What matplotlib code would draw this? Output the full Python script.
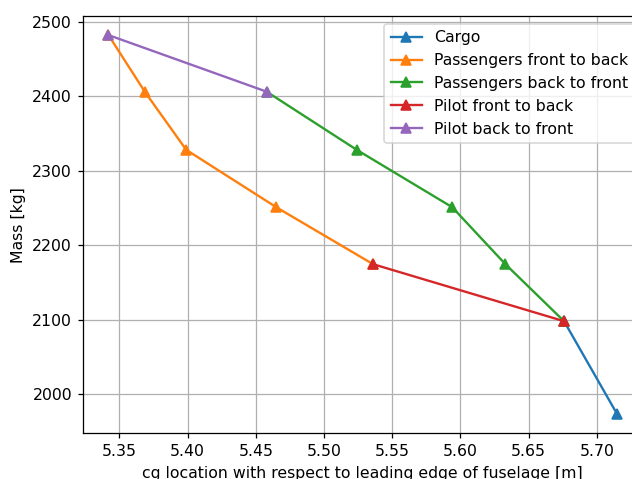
import matplotlib
matplotlib.use("Agg")
import matplotlib.pyplot as plt

# cg position [m] and aircraft mass [kg] for each loading step
cargo_x = [5.715, 5.676]
cargo_m = [1973, 2098]

pax_f2b_x = [5.536, 5.465, 5.399, 5.369, 5.342]
pax_f2b_m = [2174.5, 2251, 2328, 2405, 2482]

pax_b2f_x = [5.676, 5.633, 5.594, 5.524, 5.458]
pax_b2f_m = [2098, 2174.5, 2251, 2328, 2406]

pilot_f2b_x = [5.536, 5.676]
pilot_f2b_m = [2174.5, 2098]

pilot_b2f_x = [5.458, 5.342]
pilot_b2f_m = [2406, 2482]

dpi = 113
fig = plt.figure(figsize=(632 / dpi, 479 / dpi), dpi=dpi)
ax = fig.add_axes([83 / 632, (479 - 433.3) / 479, (642.7 - 83) / 632, (433.3 - 16.1) / 479])

ax.plot(cargo_x, cargo_m, marker="^", label="Cargo")
ax.plot(pax_f2b_x, pax_f2b_m, marker="^", label="Passengers front to back")
ax.plot(pax_b2f_x, pax_b2f_m, marker="^", label="Passengers back to front")
ax.plot(pilot_f2b_x, pilot_f2b_m, marker="^", label="Pilot front to back")
ax.plot(pilot_b2f_x, pilot_b2f_m, marker="^", label="Pilot back to front")

ax.set_xlabel("cg location with respect to leading edge of fuselage [m]")
ax.set_ylabel("Mass [kg]")
ax.grid(True)
ax.legend(loc="upper right")

fig.savefig("out.png", dpi=dpi)
